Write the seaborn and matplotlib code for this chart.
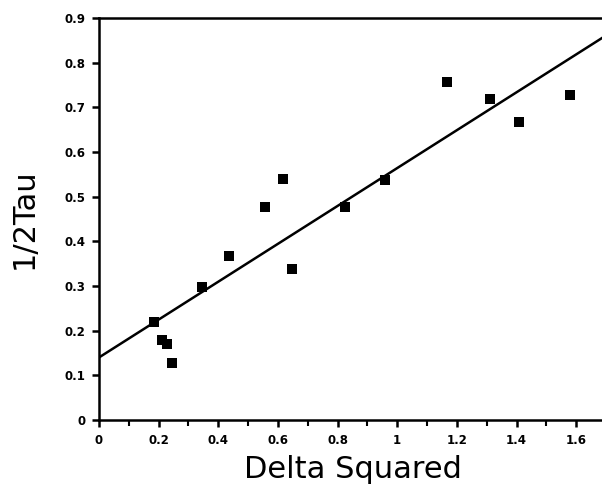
import matplotlib
matplotlib.use("Agg")
import matplotlib.pyplot as plt
import seaborn as sns
import numpy as np
import pandas as pd

delta_sq = [0.185, 0.212, 0.229, 0.246, 0.344, 0.436, 0.557, 0.617, 0.648,
            0.826, 0.960, 1.168, 1.312, 1.409, 1.580]
half_inv_tau = [0.219, 0.179, 0.170, 0.128, 0.298, 0.367, 0.477, 0.539, 0.338,
                0.477, 0.537, 0.756, 0.718, 0.667, 0.727]
fit_intercept = 0.140
fit_slope = 0.424
x_ticks = [0, 0.2, 0.4, 0.6, 0.8, 1.0, 1.2, 1.4, 1.6]
x_tick_labels = ["0", "0.2", "0.4", "0.6", "0.8", "1", "1.2", "1.4", "1.6"]
y_ticks = [0, 0.1, 0.2, 0.3, 0.4, 0.5, 0.6, 0.7, 0.8, 0.9]
y_tick_labels = ["0", "0.1", "0.2", "0.3", "0.4", "0.5", "0.6", "0.7", "0.8", "0.9"]

sns.set_theme(style="ticks")
plt.rcParams['font.family'] = ['DejaVu Sans']

df = pd.DataFrame({"x": delta_sq, "y": half_inv_tau})

fig = plt.figure(figsize=(6.02, 4.90), dpi=100)
ax = fig.add_axes([0.1645, 0.1429, 1.0066 - 0.1645, 0.8204])

sns.scatterplot(data=df, x="x", y="y", marker="s", s=45, color="black",
                edgecolor="black", linewidth=0, ax=ax, zorder=3)
ax.axline((0, fit_intercept), slope=fit_slope, color="black", lw=1.8)

ax.set_xlim(0, 1.7)
ax.set_ylim(0, 0.9)
ax.set_xticks(x_ticks)
ax.set_xticklabels(x_tick_labels, fontsize=8.5, fontweight="bold")
ax.set_yticks(y_ticks)
ax.set_yticklabels(y_tick_labels, fontsize=8.5, fontweight="bold")
ax.set_xticks(np.arange(0.1, 1.7, 0.2), minor=True)
ax.tick_params(axis="both", which="major", direction="out", length=5, width=1.8,
               color="black", labelcolor="black", pad=5)
ax.tick_params(axis="x", which="minor", direction="out", length=4, width=1.5, color="black")

for side in ["left", "bottom", "top"]:
    ax.spines[side].set_visible(True)
    ax.spines[side].set_linewidth(1.8)
    ax.spines[side].set_color("black")
ax.spines["right"].set_visible(False)

ax.set_xlabel("Delta Squared", fontsize=22, labelpad=6, color="black")
ax.set_ylabel("1/2Tau", fontsize=22, labelpad=18, color="black")

fig.savefig("out.png", dpi=100, facecolor="white")
